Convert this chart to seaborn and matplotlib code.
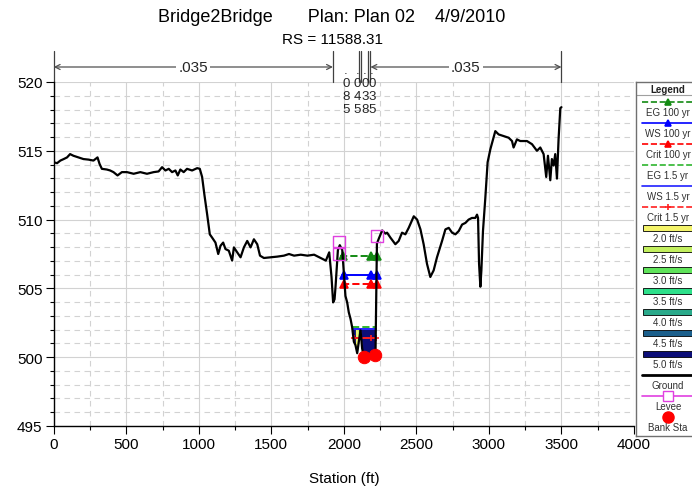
import numpy as np
import pandas as pd
import matplotlib
matplotlib.use("Agg")
import matplotlib.pyplot as plt
from matplotlib.patches import Rectangle
from matplotlib.transforms import blended_transform_factory
import seaborn as sns

# ---- cross-section geometry (station ft, elevation ft) ----
ground_sta = [0, 23, 46, 69, 92, 113, 136, 171, 205, 240, 274, 302, 316, 332, 366, 389,
              412, 440, 470, 505, 551, 597, 643, 689, 723, 747, 770, 793, 816, 839, 855,
              873, 896, 919, 954, 989, 1007, 1023, 1039, 1058, 1076, 1092, 1115, 1134,
              1150, 1168, 1184, 1207, 1230, 1242, 1265, 1288, 1311, 1334, 1357, 1380,
              1403, 1422, 1449, 1495, 1541, 1587, 1622, 1657, 1703, 1749, 1795, 1841,
              1876, 1899, 1915, 1926, 1936, 1943, 1950, 1959, 1972, 1989, 2000, 2011,
              2023, 2034, 2046, 2057, 2069, 2080, 2092, 2103, 2115, 2126, 2138, 2160,
              2190, 2218, 2228, 2241, 2264, 2287, 2298, 2321, 2355, 2378, 2401, 2424,
              2447, 2482, 2505, 2528, 2550, 2573, 2596, 2619, 2642, 2677, 2700, 2723,
              2746, 2769, 2792, 2815, 2838, 2860, 2883, 2906, 2918, 2925, 2932, 2941,
              2948, 2959, 2975, 2991, 3010, 3044, 3067, 3102, 3136, 3159, 3170, 3193,
              3216, 3262, 3297, 3331, 3354, 3377, 3395, 3407, 3423, 3434, 3446, 3457,
              3469, 3480, 3492, 3500]
ground_el = [514.17, 514.10, 514.29, 514.40, 514.52, 514.76, 514.64, 514.52, 514.40,
             514.36, 514.29, 514.52, 514.05, 513.69, 513.64, 513.57, 513.45, 513.21,
             513.45, 513.45, 513.33, 513.45, 513.33, 513.45, 513.50, 513.81, 513.57,
             513.69, 513.45, 513.57, 513.21, 513.64, 513.45, 513.69, 513.57, 513.74,
             513.69, 513.10, 511.79, 510.36, 508.93, 508.69, 508.33, 507.50, 508.10,
             508.33, 507.86, 507.74, 507.02, 507.98, 507.62, 507.26, 507.98, 508.45,
             507.98, 508.57, 508.21, 507.38, 507.21, 507.26, 507.31, 507.38, 507.50,
             507.38, 507.45, 507.38, 507.45, 507.21, 507.02, 507.62, 505.83, 503.98,
             504.21, 505.17, 506.36, 507.79, 508.14, 507.79, 506.12, 504.45, 503.98,
             503.26, 502.79, 502.19, 501.12, 500.88, 500.29, 501.12, 501.95, 500.64,
             500.00, 500.10, 500.17, 500.17, 508.26, 508.62, 509.21, 508.98, 509.05,
             508.69, 508.21, 508.45, 509.05, 508.93, 509.40, 510.24, 510.00, 509.29,
             508.21, 506.79, 505.83, 506.31, 507.26, 508.45, 509.29, 509.40, 509.05,
             508.93, 509.17, 509.64, 509.76, 510.00, 510.12, 510.12, 510.36, 510.12,
             506.79, 505.12, 506.31, 509.17, 511.55, 514.17, 515.12, 516.43, 516.19,
             516.07, 515.95, 515.71, 515.24, 515.83, 515.71, 515.71, 515.48, 515.00,
             515.24, 514.76, 513.10, 514.64, 512.86, 514.40, 513.93, 514.76, 512.98,
             515.83, 518.10, 518.17]

levee_sta = [1966, 1966, 2230]
levee_el = [508.4, 507.5, 508.8]
bank_sta = [2138, 2218]
bank_el = [500.0, 500.17]

# ---- water surface profiles ----
profile_names = ["EG 100 yr", "WS 100 yr", "Crit 100 yr", "EG 1.5 yr", "WS 1.5 yr", "Crit 1.5 yr"]
profile_elev = [507.38, 505.95, 505.33, 502.19, 502.02, 501.40]
profile_left = [1975, 1985, 1985, 2057, 2062, 2057]
profile_right = [2241, 2241, 2241, 2225, 2225, 2230]
profile_marks = [[1992, 2190, 2230], [1998, 2186, 2230], [1998, 2186, 2230],
                 [], [], [2068, 2190, 2222]]
profile_colors = ["#138a13", "#0000ff", "#ff0000", "#2fb52f", "#2020ff", "#ff2020"]
profile_styles = ["--", "-", "--", "--", "-", "--"]
profile_markers = ["^", "^", "^", None, None, "+"]

# ---- velocity distribution for the 1.5 yr profile ----
vel_edges = [2057, 2080, 2092, 2102, 2228]
vel_values = [5.1, 2.0, 2.5, 5.4]
vel_bins = [2.0, 2.5, 3.0, 3.5, 4.0, 4.5, 5.0]
vel_labels = ["2.0 ft/s", "2.5 ft/s", "3.0 ft/s", "3.5 ft/s", "4.0 ft/s", "4.5 ft/s", "5.0 ft/s"]
vel_colors = ["#f4f46a", "#c2ef5e", "#5fe35a", "#2de08a", "#2aa98a", "#1b5f8c", "#0c0e78"]

# ---- Manning's n regions ----
n_sta = [0, 1925, 2105, 2121, 2167, 2183, 3500]
n_val = [".035", ".085", ".045", ".038", ".035", ".035"]

title = "Bridge2Bridge       Plan: Plan 02    4/9/2010"
subtitle = "RS = 11588.31"

sns.set_theme(style="white")
plt.rcParams["font.family"] = ["Liberation Sans", "DejaVu Sans"]

W, H = 692, 489
fig = plt.figure(figsize=(W / 100, H / 100), dpi=100)
ax_l, ax_r, ax_t, ax_b = 53.7, 634.0, 83.0, 427.0
ax = fig.add_axes([ax_l / W, 1 - ax_b / H, (ax_r - ax_l) / W, (ax_b - ax_t) / H])

ground = pd.DataFrame({"Station": ground_sta, "Elevation": ground_el})
g_st = np.asarray(ground_sta, float)
g_el = np.asarray(ground_el, float)

# velocity colour fill between ground and the 1.5 yr water surface
ws15 = profile_elev[4]
for a, b, v in zip(vel_edges[:-1], vel_edges[1:], vel_values):
    idx = int(np.clip(np.searchsorted(vel_bins, v, side="right") - 1, 0, len(vel_bins) - 1))
    xs = np.linspace(a, b, 40)
    gs = np.interp(xs, g_st, g_el)
    ax.fill_between(xs, gs, ws15, where=gs < ws15, color=vel_colors[idx], lw=0, zorder=2)

# water surface lines
for name, el, lft, rgt, mk, col, ls, m in zip(profile_names, profile_elev, profile_left,
                                              profile_right, profile_marks, profile_colors,
                                              profile_styles, profile_markers):
    xs = sorted([lft, rgt] + mk)
    df = pd.DataFrame({"Station": xs, "Elevation": [el] * len(xs)})
    marks = [xs.index(s) for s in mk]
    sns.lineplot(data=df, x="Station", y="Elevation", ax=ax, color=col, linestyle=ls,
                 lw=1.4, marker=m if m else None, markevery=marks if m else None,
                 markersize=6 if m == "^" else 5, mew=1.2, mec=col, mfc=col,
                 sort=False, estimator=None, zorder=4)

# ground
sns.lineplot(data=ground, x="Station", y="Elevation", ax=ax, color="black", lw=1.6,
             sort=False, estimator=None, zorder=5)

# levees and bank stations
sns.scatterplot(x=levee_sta, y=levee_el, ax=ax, marker="s", s=70, facecolor="none",
                edgecolor="#e040e0", linewidth=1.0, zorder=6)
sns.scatterplot(x=bank_sta, y=bank_el, ax=ax, marker="o", s=80, color="#ff0000",
                edgecolor="#ff0000", zorder=7)

# axes, ticks, grid
ax.set_xlim(0, 4000)
ax.set_ylim(495, 520)
ax.set_xticks(np.arange(0, 4001, 500))
ax.set_xticks(np.arange(0, 4001, 250), minor=True)
ax.set_yticks(np.arange(495, 521, 5))
ax.set_yticks(np.arange(495, 521, 1), minor=True)
ax.grid(which="major", color="#d2d2d2", lw=0.8, ls="-")
ax.grid(which="minor", color="#d2d2d2", lw=0.8, ls=(0, (5, 4)))
ax.set_axisbelow(True)
for s in ["top", "right"]:
    ax.spines[s].set_visible(False)
for s in ["left", "bottom"]:
    ax.spines[s].set_color("black")
    ax.spines[s].set_linewidth(1.0)
ax.tick_params(which="major", direction="out", length=6, width=0.8, color="black",
               labelsize=11, labelcolor="black", bottom=True, left=True, pad=2)
ax.tick_params(which="minor", direction="out", length=3, width=0.8, color="black",
               bottom=True, left=True)
ax.set_xlabel("Station (ft)", fontsize=11, color="black", labelpad=14)
ax.set_ylabel("")

fig.text(332 / W, 1 - 17 / H, title, ha="center", va="center", fontsize=13, color="black")
fig.text(332 / W, 1 - 40 / H, subtitle, ha="center", va="center", fontsize=11, color="black")

# Manning's n annotations above the section
tr = blended_transform_factory(ax.transData, ax.transAxes)
px = 1.0 / (ax_b - ax_t)
y_arrow = 1 + (ax_t - 68) * px
y_top = 1 + (ax_t - 52) * px
for s in n_sta:
    ax.plot([s, s], [1.0, y_top], transform=tr, color="#404040", lw=0.9, clip_on=False)

narrow_pos, narrow_val = [], []
for a, b, v in zip(n_sta[:-1], n_sta[1:], n_val):
    mid = 0.5 * (a + b)
    if b - a > 500:
        ax.annotate("", xy=(a, y_arrow), xytext=(b, y_arrow), xycoords=tr, textcoords=tr,
                    arrowprops=dict(arrowstyle="<->", color="#505050", lw=0.9,
                                    shrinkA=0, shrinkB=0, mutation_scale=9),
                    annotation_clip=False)
        ax.text(mid, y_arrow, v, transform=tr, ha="center", va="center", fontsize=11,
                bbox=dict(facecolor="white", edgecolor="none", pad=1.5), clip_on=False)
    else:
        narrow_pos.append(mid)
        narrow_val.append(v)

# narrow regions: value written vertically, one character per row; crowded
# columns are pushed apart so that neighbouring digits stay legible
min_gap = 50.0
pos = list(narrow_pos)
for _ in range(20):
    moved = False
    for i in range(1, len(pos)):
        if pos[i] - pos[i - 1] < min_gap:
            shift = 0.5 * (min_gap - (pos[i] - pos[i - 1]))
            if i - 1 > 0:
                pos[i - 1] -= shift
                pos[i] += shift
            else:
                pos[i] += 2 * shift
            moved = True
    if not moved:
        break
for x, v in zip(pos, narrow_val):
    ax.text(x, 1 + (ax_t - 65) * px, "\n".join(v), transform=tr, ha="center",
            va="top", fontsize=9.5, linespacing=1.1, clip_on=False, zorder=8)

# legend panel
lg_t, lg_b, lg_l, lg_r = 83.0, 437.0, 636.0, 720.0
lax = fig.add_axes([lg_l / W, 1 - lg_b / H, (lg_r - lg_l) / W, (lg_b - lg_t) / H])
lax.set_xlim(lg_l, lg_r)
lax.set_ylim(lg_b, lg_t)
lax.set_xticks([])
lax.set_yticks([])
lax.set_facecolor("white")
for s in ["left", "top", "bottom"]:
    lax.spines[s].set_color("#707070")
    lax.spines[s].set_linewidth(1.0)
lax.spines["right"].set_visible(False)
cx = 668
lax.text(cx, 90, "Legend", ha="center", va="center", fontsize=7, fontweight="bold",
         color="#202020")
lax.plot([lg_l, lg_r], [96, 96], color="#a0a0a0", lw=0.8)

entries = []
for name, col, ls, m in zip(profile_names, profile_colors, profile_styles, profile_markers):
    entries.append(("line", name, col, ls, m))
for lab, col in zip(vel_labels, vel_colors):
    entries.append(("patch", lab, col, None, None))
entries.append(("line", "Ground", "black", "-", None))
entries.append(("line", "Levee", "#e040e0", "-", "s"))
entries.append(("dot", "Bank Sta", "#ff0000", None, "o"))

step = 21.0
for i, (kind, lab, col, ls, m) in enumerate(entries):
    ys = 103 + step * i
    yt = 113 + step * i
    if kind == "line":
        lw = 2.0 if lab == "Ground" else 1.2
        lax.plot([642, lg_r], [ys, ys], color=col, ls=ls, lw=lw)
        if m == "s":
            lax.plot([cx], [ys], marker="s", ms=7, mfc="white", mec=col, mew=1.0)
        elif m:
            lax.plot([cx], [ys], marker=m, ms=5, color=col, mew=1.2)
    elif kind == "patch":
        lax.add_patch(Rectangle((643, ys - 3), lg_r - 643, 6, facecolor=col,
                                edgecolor="black", lw=0.6))
    else:
        lax.plot([cx], [ys], marker="o", ms=8, color=col)
    lax.text(cx, yt, lab, ha="center", va="center", fontsize=7, color="#303030")

fig.savefig("out.png", dpi=100, facecolor="white")
